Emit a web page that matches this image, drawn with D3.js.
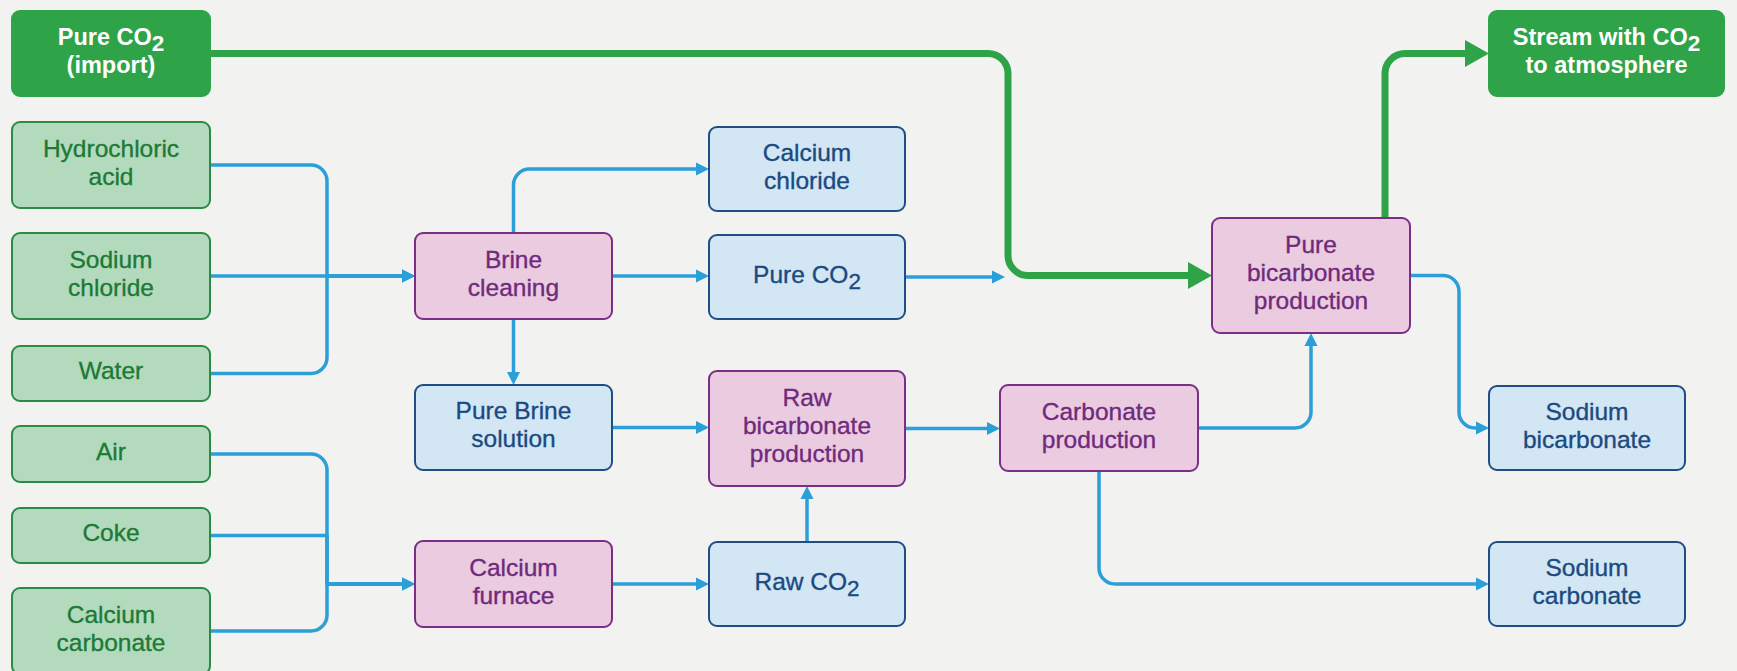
<!DOCTYPE html>
<html>
<head>
<meta charset="utf-8">
<script src="https://cdn.jsdelivr.net/npm/d3@7/dist/d3.min.js"></script>
<style>
  html, body { margin: 0; padding: 0; background: #f2f2f1; overflow: hidden; }
  svg { display: block; }
</style>
</head>
<body>
<svg id="chart" width="1737" height="671"></svg>
<script>
// ---------- DATA ----------
const nodeIds = ["import", "hcl", "nacl", "water", "air", "coke", "caco3",
  "brine", "cacl2", "pureco2", "purebrine", "rawbicarb", "furnace", "rawco2",
  "carbonate", "purebicarb", "nabicarb", "nacarb", "stream"];
const nodeLabels = ["Pure CO2\n(import)", "Hydrochloric\nacid", "Sodium\nchloride", "Water", "Air", "Coke",
  "Calcium\ncarbonate", "Brine\ncleaning", "Calcium\nchloride", "Pure CO2", "Pure Brine\nsolution",
  "Raw\nbicarbonate\nproduction", "Calcium\nfurnace", "Raw CO2", "Carbonate\nproduction",
  "Pure\nbicarbonate\nproduction", "Sodium\nbicarbonate", "Sodium\ncarbonate", "Stream with CO2\nto atmosphere"];
const nodeKinds = ["external", "input", "input", "input", "input", "input", "input",
  "process", "product", "product", "product", "process", "process", "product",
  "process", "process", "product", "product", "external"];
const linkSources = ["hcl", "nacl", "water", "air", "coke", "caco3", "brine", "brine", "brine",
  "pureco2", "purebrine", "furnace", "rawco2", "rawbicarb", "carbonate", "carbonate",
  "purebicarb", "import", "purebicarb"];
const linkTargets = ["brine", "brine", "brine", "furnace", "furnace", "furnace", "cacl2", "pureco2", "purebrine",
  "purebicarb", "rawbicarb", "rawco2", "rawbicarb", "carbonate", "purebicarb", "nacarb",
  "nabicarb", "purebicarb", "stream"];
const linkKinds = ["blue", "blue", "blue", "blue", "blue", "blue", "blue", "blue", "blue",
  "blue", "blue", "blue", "blue", "blue", "blue", "blue", "blue", "green", "green"];

// ---------- LAYOUT ----------
const nodeColumn = [0, 0, 0, 0, 0, 0, 0, 1, 2, 2, 1, 2, 1, 2, 3, 4, 5, 5, 5];
const nodeRows = { // top, bottom
  import: [11, 96], hcl: [122, 208], nacl: [233, 319], water: [346, 401], air: [426, 482],
  coke: [508, 563], caco3: [588, 674], brine: [233, 319], cacl2: [127, 211], pureco2: [235, 319],
  purebrine: [385, 470], rawbicarb: [371, 486], furnace: [541, 627], rawco2: [542, 626],
  carbonate: [385, 471], purebicarb: [218, 333], nabicarb: [386, 470], nacarb: [542, 626], stream: [11, 96]
};
const xCol = d3.scaleOrdinal().domain([0, 1, 2, 3, 4, 5]).range([12, 415, 709, 1000, 1212, 1489]);
const wCol = d3.scaleOrdinal().domain([0, 1, 2, 3, 4, 5]).range([198, 197, 196, 198, 198, 196]);
const y = d3.scaleLinear().domain([0, 671]).range([0, 671]);

const style = {
  external: { fill: "#2ea347", stroke: "#2ea347", text: "#ffffff", weight: "bold" },
  input:    { fill: "#b4dabd", stroke: "#2b8a45", text: "#1c7a36", weight: "normal" },
  process:  { fill: "#eacbe0", stroke: "#7a2e86", text: "#6f2a7c", weight: "normal" },
  product:  { fill: "#d2e6f4", stroke: "#1f4e86", text: "#1b4a80", weight: "normal" }
};
const lineStyle = {
  blue:  { color: "#2b9fd8", width: 3.5, alen: 13, ahw: 6.5, r: 16 },
  green: { color: "#2ea347", width: 7, alen: 24, ahw: 13.5, r: 20 }
};

const nodes = nodeIds.map((id, i) => {
  const c = nodeColumn[i];
  const x0 = xCol(c);
  const w = id === "stream" ? 235 : wCol(c);
  const y0 = y(nodeRows[id][0]), y1 = y(nodeRows[id][1]);
  return { id, label: nodeLabels[i], kind: nodeKinds[i], x: x0, y: y0, w, h: y1 - y0,
    cx: x0 + w / 2, cy: (y0 + y1) / 2, right: x0 + w, bottom: y1 };
});
const N = Object.fromEntries(nodes.map(n => [n.id, n]));

// routing gutters
const busX = 327, greenX = 1008, pbOutX = 1459;

function route(s, t, kind, r) {
  const S = N[s], T = N[t];
  if (["hcl", "nacl", "water", "air", "coke", "caco3"].includes(s)) {
    const yy = T.cy;
    const corner = (s === "nacl" || s === "coke") ? 0 : r;
    if (s === "nacl") return [[S.right, S.cy], [T.x, yy]];
    return [[S.right, S.cy], [busX, S.cy, corner], [busX, yy, 0], [T.x, yy]];
  }
  if (s === "brine" && t === "cacl2") return [[S.cx, S.y], [S.cx, T.cy, r], [T.x, T.cy]];
  if (s === "brine" && t === "purebrine") return [[S.cx, S.bottom], [S.cx, T.y]];
  if (s === "rawco2") return [[S.cx, S.y], [S.cx, T.bottom]];
  if (s === "pureco2") return [[S.right, S.cy], [greenX - 3, S.cy]];
  if (s === "carbonate" && t === "purebicarb") return [[S.right, S.cy], [T.cx, S.cy, r], [T.cx, T.bottom]];
  if (s === "carbonate" && t === "nacarb") return [[S.cx, S.bottom], [S.cx, T.cy, r], [T.x, T.cy]];
  if (s === "purebicarb" && t === "nabicarb") return [[S.right, S.cy], [pbOutX, S.cy, r], [pbOutX, T.cy, r], [T.x, T.cy]];
  if (s === "import") return [[S.right, S.cy], [greenX, S.cy, r], [greenX, T.cy, r], [T.x, T.cy]];
  if (s === "purebicarb" && t === "stream") return [[S.right - 25, S.y], [S.right - 25, T.cy, r], [T.x, T.cy]];
  return [[S.right, S.cy], [T.x, S.cy]];
}

function buildPath(pts, cut) {
  const p = pts.map(d => d.slice());
  const a = p[p.length - 2], b = p[p.length - 1];
  const L = Math.hypot(b[0] - a[0], b[1] - a[1]);
  const ux = (b[0] - a[0]) / L, uy = (b[1] - a[1]) / L;
  b[0] -= ux * cut; b[1] -= uy * cut;
  let d = `M${p[0][0]},${p[0][1]}`;
  for (let i = 1; i < p.length - 1; i++) {
    const [x, yy, r] = p[i];
    if (!r) { d += `L${x},${yy}`; continue; }
    const pr = p[i - 1], nx = p[i + 1];
    const l1 = Math.hypot(x - pr[0], yy - pr[1]), l2 = Math.hypot(nx[0] - x, nx[1] - yy);
    const d1 = [(x - pr[0]) / l1, (yy - pr[1]) / l1], d2 = [(nx[0] - x) / l2, (nx[1] - yy) / l2];
    const cross = d1[0] * d2[1] - d1[1] * d2[0];
    d += `L${x - d1[0] * r},${yy - d1[1] * r}`;
    d += `A${r},${r} 0 0 ${cross > 0 ? 1 : 0} ${x + d2[0] * r},${yy + d2[1] * r}`;
  }
  d += `L${b[0]},${b[1]}`;
  return { d, tip: pts[pts.length - 1], dir: [ux, uy] };
}

const svg = d3.select("#chart");
svg.append("rect").attr("width", 1737).attr("height", 671).attr("fill", "#f2f2f1");

const gLinks = svg.append("g");
const links = linkSources.map((s, i) => ({ s, t: linkTargets[i], kind: linkKinds[i] }));
links.forEach(l => {
  const st = lineStyle[l.kind];
  const pts = route(l.s, l.t, l.kind, st.r);
  const res = buildPath(pts, st.alen - 2);
  gLinks.append("path").attr("d", res.d).attr("fill", "none")
    .attr("stroke", st.color).attr("stroke-width", st.width).attr("stroke-linejoin", "round");
  const [tx, ty] = res.tip, [ux, uy] = res.dir;
  const bx = tx - ux * st.alen, by = ty - uy * st.alen;
  const px = -uy, py = ux;
  gLinks.append("polygon")
    .attr("points", `${tx},${ty} ${bx + px * st.ahw},${by + py * st.ahw} ${bx - px * st.ahw},${by - py * st.ahw}`)
    .attr("fill", st.color);
});

const fontSize = 24.5, lineH = 28;
const gNodes = svg.append("g");
const ng = gNodes.selectAll("g").data(nodes).join("g");
ng.append("rect")
  .attr("x", d => d.x).attr("y", d => d.y).attr("width", d => d.w).attr("height", d => d.h)
  .attr("rx", 8).attr("ry", 8)
  .attr("fill", d => style[d.kind].fill)
  .attr("stroke", d => style[d.kind].stroke)
  .attr("stroke-width", 2);

ng.each(function(d) {
  const lines = d.label.split("\n");
  const st = style[d.kind];
  const t = d3.select(this).append("text")
    .attr("text-anchor", "middle")
    .attr("font-family", "'Liberation Sans', Arial, Helvetica, sans-serif")
    .attr("font-size", st.weight === "bold" ? 23.5 : fontSize)
    .attr("font-weight", st.weight)
    .attr("fill", st.text)
    .attr("stroke", st.weight === "bold" ? "none" : st.text)
    .attr("stroke-width", 0.35);
  const y0 = d.cy - (lines.length - 1) * lineH / 2 + 5.5;
  lines.forEach((ln, i) => {
    const parts = ln.split("CO2");
    const tl = t.append("tspan").attr("x", d.cx).attr("y", y0 + i * lineH);
    parts.forEach((p, j) => {
      if (j === 0) { tl.text(p); return; }
      t.append("tspan").text("CO");
      t.append("tspan").attr("dy", 6).attr("font-size", fontSize * 0.92).text("2");
      t.append("tspan").attr("dy", -6).text(p);
    });
  });
});
</script>
</body>
</html>
